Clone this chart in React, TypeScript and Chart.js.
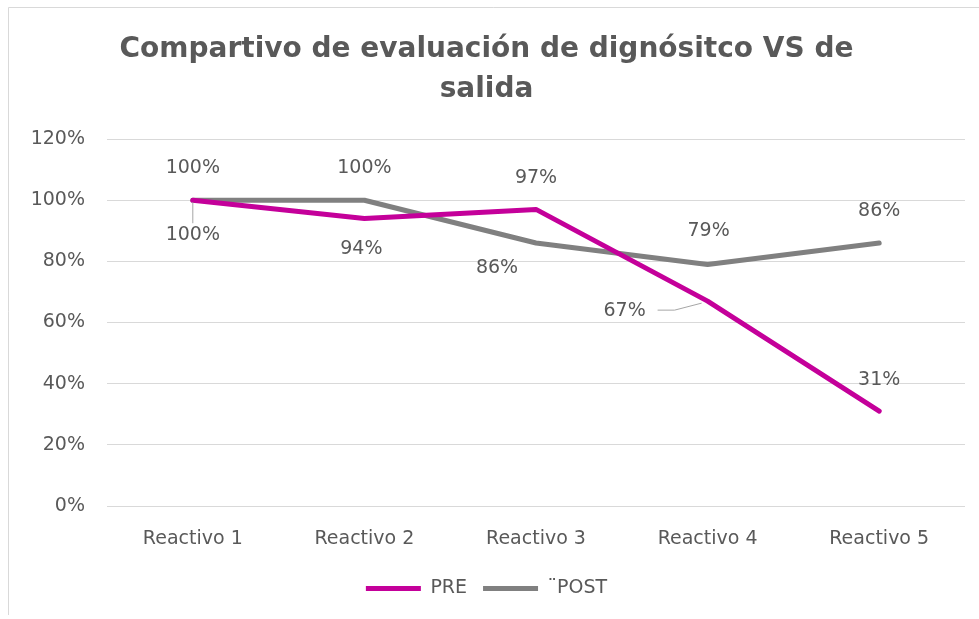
import React, { useEffect, useRef } from "react";
import { Chart, registerables } from "chart.js";

Chart.register(...registerables);

const categories = ["Reactivo 1", "Reactivo 2", "Reactivo 3", "Reactivo 4", "Reactivo 5"];
const preValues = [1.0, 0.94, 0.97, 0.67, 0.31];
const postValues = [1.0, 1.0, 0.86, 0.79, 0.86];
const seriesNames = ["PRE", "¨POST"];
const titleLines = ["Compartivo de evaluación de dignósitco VS de", "salida"];

const PRE_COLOR = "#C4009A";
const POST_COLOR = "#808080";
const TEXT_COLOR = "#595959";
const FONT = "'DejaVu Sans', sans-serif";

// label placement (pixel offsets from the point), per dataset
const labelOffsets = [
  [{ dx: 0, dy: 35, leader: true }, { dx: -3, dy: 30 }, { dx: 0, dy: -31 }, { dx: -83, dy: 10, leader: true }, { dx: 0, dy: -31 }],
  [{ dx: 0, dy: -32 }, { dx: 0, dy: -32 }, { dx: -39, dy: 25 }, { dx: 1, dy: -33 }, { dx: 0, dy: -32 }],
];

const frameAndLabels = {
  id: "frameAndLabels",
  beforeDraw(chart: any) {
    const { ctx, width, height } = chart;
    ctx.save();
    ctx.fillStyle = "#ffffff";
    ctx.fillRect(0, 0, width, height);
    ctx.strokeStyle = "#D9D9D9";
    ctx.lineWidth = 1;
    ctx.beginPath();
    ctx.moveTo(width, 7.5);
    ctx.lineTo(8.5, 7.5);
    ctx.lineTo(8.5, height - 4);
    ctx.stroke();
    ctx.restore();
  },
  afterDatasetsDraw(chart: any) {
    const { ctx } = chart;
    ctx.save();
    ctx.font = `19px ${FONT}`;
    ctx.fillStyle = TEXT_COLOR;
    ctx.textAlign = "center";
    ctx.textBaseline = "middle";
    chart.data.datasets.forEach((ds: any, di: number) => {
      const meta = chart.getDatasetMeta(di);
      meta.data.forEach((pt: any, i: number) => {
        const off = labelOffsets[di][i];
        const v = ds.data[i];
        const txt = Math.round(v * 100) + "%";
        const lx = pt.x + off.dx;
        const ly = pt.y + off.dy;
        if (off.leader) {
          ctx.strokeStyle = "#A6A6A6";
          ctx.lineWidth = 1;
          ctx.beginPath();
          if (off.dx === 0) {
            ctx.moveTo(pt.x, pt.y + 2);
            ctx.lineTo(pt.x, ly - 12);
          } else {
            ctx.moveTo(lx + 33, ly - 1);
            ctx.lineTo(lx + 50, ly - 1);
            ctx.lineTo(pt.x - 6, pt.y + 2);
          }
          ctx.stroke();
        }
        ctx.fillText(txt, lx, ly);
      });
    });
    ctx.restore();
  },
};

export default function App() {
  const ref = useRef<HTMLCanvasElement>(null);
  useEffect(() => {
    const chart = new Chart(ref.current!, {
      type: "line",
      data: {
        labels: categories,
        datasets: [
          {
            label: seriesNames[0],
            data: preValues,
            borderColor: PRE_COLOR,
            backgroundColor: PRE_COLOR,
            borderWidth: 5,
            borderCapStyle: "round",
            borderJoinStyle: "round",
            pointRadius: 0,
            tension: 0,
          },
          {
            label: seriesNames[1],
            data: postValues,
            borderColor: POST_COLOR,
            backgroundColor: POST_COLOR,
            borderWidth: 5,
            borderCapStyle: "round",
            borderJoinStyle: "round",
            pointRadius: 0,
            tension: 0,
          },
        ],
      },
      options: {
        animation: false,
        responsive: false,
        layout: { padding: { left: 8, right: 14, top: 10, bottom: 11 } },
        plugins: {
          title: {
            display: true,
            text: titleLines,
            color: TEXT_COLOR,
            font: { family: FONT, size: 28, weight: "bold", lineHeight: 1.43 },
            padding: { top: 20, bottom: 29 },
          },
          legend: {
            position: "bottom",
            labels: {
              color: TEXT_COLOR,
              font: { family: FONT, size: 19 },
              usePointStyle: true,
              pointStyle: "line",
              pointStyleWidth: 55,
              boxHeight: 19,
              padding: 16,
            },
          },
          tooltip: { enabled: false },
        },
        scales: {
          x: {
            offset: true,
            grid: { display: false, drawTicks: false },
            border: { display: false },
            ticks: { color: TEXT_COLOR, font: { family: FONT, size: 19 }, padding: 22 },
            afterFit(scale: any) {
              scale.height = 57;
            },
          },
          y: {
            min: 0,
            max: 1.2,
            grid: { color: "#D9D9D9", lineWidth: 1, drawTicks: false },
            border: { display: false },
            ticks: {
              stepSize: 0.2,
              color: TEXT_COLOR,
              font: { family: FONT, size: 19 },
              padding: 22,
              callback: (v: any) => Math.round(Number(v) * 100) + "%",
            },
            afterFit(scale: any) {
              scale.width = 99;
            },
          },
        },
      },
      plugins: [frameAndLabels],
    } as any);
    return () => chart.destroy();
  }, []);
  return (
    <div style={{ position: "fixed", left: 0, top: 0, width: 979, height: 619 }}>
      <canvas ref={ref} width={979} height={619} style={{ width: 979, height: 619 }} />
    </div>
  );
}
